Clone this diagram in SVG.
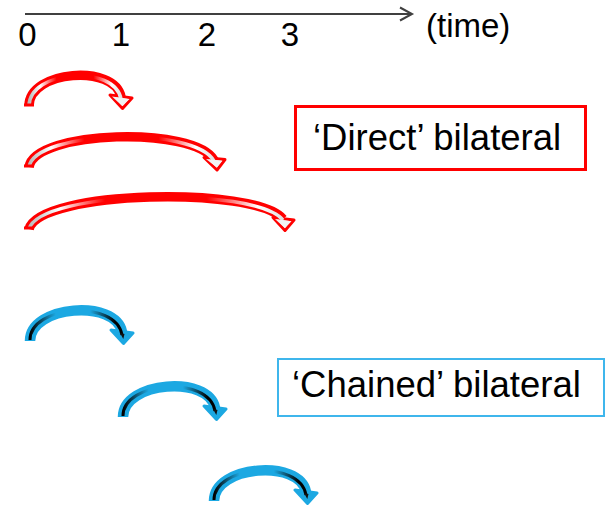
<svg xmlns="http://www.w3.org/2000/svg" xmlns:xlink="http://www.w3.org/1999/xlink" width="607" height="505" viewBox="0 0 607 505">
<style>
.lbl{font-family:"Liberation Sans",Arial,sans-serif;fill:#000}
.ax{stroke:#404040;stroke-width:2;fill:none}
.ro{fill:none;stroke:#ff0000;stroke-width:9.5}
.ri{fill:none;stroke:url(#rg);stroke-width:3.5}
.rh{fill:#fff;stroke:#ff0000;stroke-width:3;stroke-linejoin:round}
.rhf{fill:#f2f2f2;stroke:none}
.rb{stroke:#ff0000;stroke-width:3}
.bo{fill:none;stroke:#1ca8e2;stroke-width:10.5}
.bi{fill:none;stroke:url(#bg);stroke-width:3}
.bh{fill:#1ca8e2;stroke:#1ca8e2;stroke-width:3;stroke-linejoin:round}
.bt{fill:#111;stroke:none}
.box-r{fill:#fff;stroke:#ff0000;stroke-width:3}
.box-b{fill:#fff;stroke:#3fb6ec;stroke-width:2}
</style>
<defs>
<linearGradient id="rg" x1="0" y1="0" x2="1" y2="0">
<stop offset="0" stop-color="#b8b8b8" stop-opacity="1"/>
<stop offset="0.12" stop-color="#ffffff" stop-opacity="1"/>
<stop offset="0.3" stop-color="#ffffff" stop-opacity="0"/>
<stop offset="0.7" stop-color="#ffffff" stop-opacity="0"/>
<stop offset="0.9" stop-color="#ffffff" stop-opacity="1"/>
<stop offset="1" stop-color="#e0e0e0" stop-opacity="1"/>
</linearGradient>
<linearGradient id="bg" x1="0" y1="0" x2="1" y2="0">
<stop offset="0" stop-color="#000" stop-opacity="1"/>
<stop offset="0.28" stop-color="#000" stop-opacity="0"/>
<stop offset="0.65" stop-color="#000" stop-opacity="0"/>
<stop offset="0.92" stop-color="#000" stop-opacity="1"/>
</linearGradient>
<g id="barc">
<path class="bo" d="M 29 106 C 29 70 115 64 121 97"/>
<polygon class="bh" points="110,95 132,98 122.5,108.5"/>
<path class="bi" d="M 29 105 C 29 70 115 64 121 100"/>
<polygon class="bt" points="119,98 123.5,99 122.3,104"/>
</g>
</defs>

<g id="timeline">
<line class="ax" x1="25" y1="14" x2="412" y2="14"/>
<polyline class="ax" points="400,7.5 412,14 400,20.5"/>
<text class="lbl" x="27.5" y="46" font-size="33" text-anchor="middle">0</text>
<text class="lbl" x="121" y="46" font-size="33" text-anchor="middle">1</text>
<text class="lbl" x="207" y="46" font-size="33" text-anchor="middle">2</text>
<text class="lbl" x="290" y="46" font-size="33" text-anchor="middle">3</text>
<text class="lbl" x="426" y="37" font-size="33">(time)</text>
</g>

<g id="connectors">
<g id="direct-1">
<path class="ro" d="M 29 106 C 29 70 115 64 121 97"/>
<polygon class="rh" points="110,95 132,98 122.5,108.5"/>
<path class="ri" d="M 29 106 C 29 70 115 64 121 99"/>
<polygon class="rhf" points="112,96.5 129.5,99 122.3,106"/>
<line class="rb" x1="24" y1="105" x2="34" y2="105"/>
</g>
<g id="direct-2">
<path class="ro" d="M 29 167 C 35 130 195 126 214 160"/>
<polygon class="rh" points="204,157.5 225,159.5 217,170"/>
<path class="ri" d="M 29 167 C 35 130 195 126 214 161"/>
<polygon class="rhf" points="206,159 222.5,160.8 216.8,167.5"/>
<line class="rb" x1="24" y1="166" x2="34" y2="166"/>
</g>
<g id="direct-3">
<path class="ro" d="M 29 229 C 40 190 255 186 283 219"/>
<polygon class="rh" points="273,217.5 294,220 285,230.5"/>
<path class="ri" d="M 29 229 C 40 190 255 186 283 220"/>
<polygon class="rhf" points="275,219 291.5,221.2 284.8,228"/>
<line class="rb" x1="24" y1="228" x2="34" y2="228"/>
</g>
<g id="chained-1"><use xlink:href="#barc" href="#barc" transform="translate(1,235)"/></g>
<g id="chained-2"><use xlink:href="#barc" href="#barc" transform="translate(94,311)"/></g>
<g id="chained-3"><use xlink:href="#barc" href="#barc" transform="translate(185,395)"/></g>
</g>

<g id="direct-label">
<rect class="box-r" x="295.5" y="106.5" width="290" height="63"/>
<text class="lbl" x="313" y="150" font-size="36.5">‘Direct’ bilateral</text>
</g>
<g id="chained-label">
<rect class="box-b" x="278" y="359" width="326" height="57"/>
<text class="lbl" x="292" y="397" font-size="36.5">‘Chained’ bilateral</text>
</g>
</svg>
